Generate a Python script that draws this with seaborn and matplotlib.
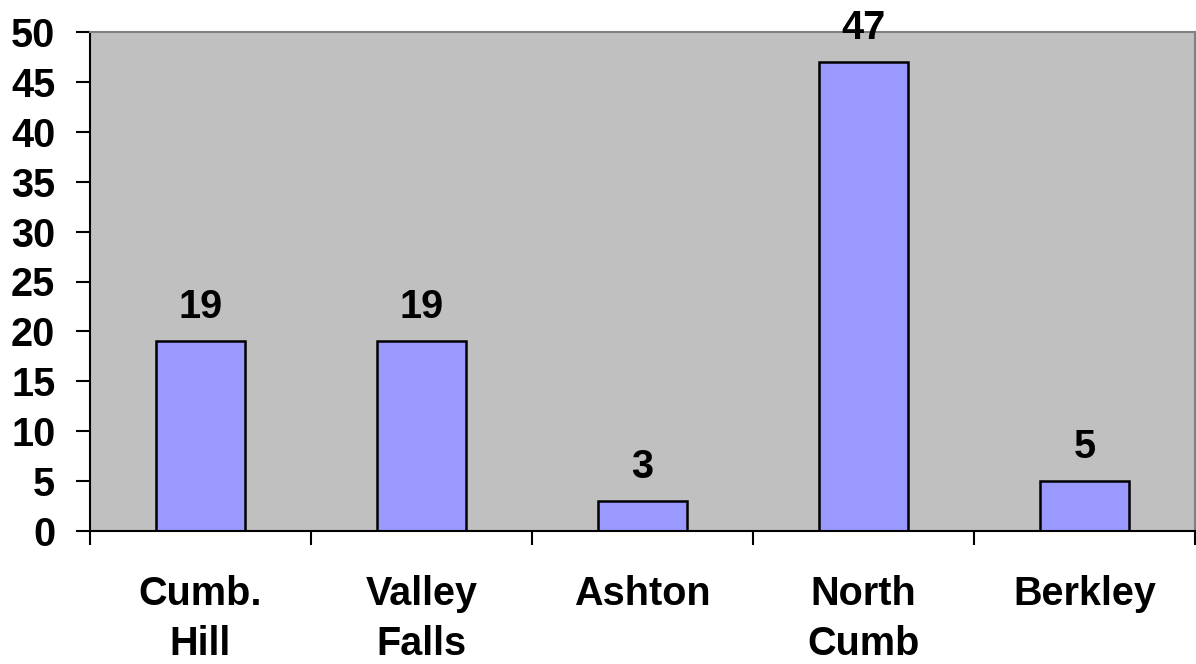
import matplotlib
matplotlib.use("Agg")
import matplotlib.pyplot as plt
import seaborn as sns
import pandas as pd
import numpy as np

categories = ["Cumb.\nHill", "Valley\nFalls", "Ashton", "North\nCumb", "Berkley"]
values = [19, 19, 3, 47, 5]
y_ticks = [0, 5, 10, 15, 20, 25, 30, 35, 40, 45, 50]

sns.set_theme(style="white")
plt.rcParams['font.family'] = ['Liberation Sans', 'DejaVu Sans']
plt.rcParams['font.weight'] = 'bold'
plt.rcParams['text.color'] = 'black'
plt.rcParams['xtick.color'] = 'black'
plt.rcParams['ytick.color'] = 'black'

df = pd.DataFrame({"cat": categories, "val": values})

FS = 28.5

fig = plt.figure(figsize=(11.96, 6.64), dpi=100)
ax = fig.add_axes([90/1196, 133/664, 1105/1196, 499/664])
ax.set_facecolor("#C0C0C0")

sns.barplot(data=df, x="cat", y="val", color="#9999FF", edgecolor="black",
            linewidth=1.8, width=0.4, saturation=1, ax=ax)

ax.set_xlim(-0.5, len(categories) - 0.5)
ax.set_ylim(0, 50)
ax.set_yticks(y_ticks)
ax.set_yticklabels([str(t) for t in y_ticks], fontsize=FS, fontweight='bold', color='black')
ax.set_xticks(range(len(categories)))
ax.set_xticklabels(categories, fontsize=FS, fontweight='bold', linespacing=1.4, color='black')
ax.set_xticks(np.arange(-0.5, len(categories), 1.0), minor=True)
ax.tick_params(axis='x', which='major', length=0, pad=32)
ax.tick_params(axis='x', which='minor', length=10, width=1.5, color='black', direction='out', bottom=True)
ax.tick_params(axis='y', which='major', length=10, width=1.5, color='black', direction='out', left=True, pad=15)
ax.set_xlabel("")
ax.set_ylabel("")

for s in ["left", "bottom"]:
    ax.spines[s].set_color("black")
    ax.spines[s].set_linewidth(1.5)
for s in ["top", "right"]:
    ax.spines[s].set_color("#808080")
    ax.spines[s].set_linewidth(1.5)
    ax.spines[s].set_visible(True)

for c in ax.containers:
    ax.bar_label(c, labels=[str(v) for v in values], padding=11,
                 fontsize=FS, fontweight='bold', color='black')

fig.savefig("out.png", dpi=100)
